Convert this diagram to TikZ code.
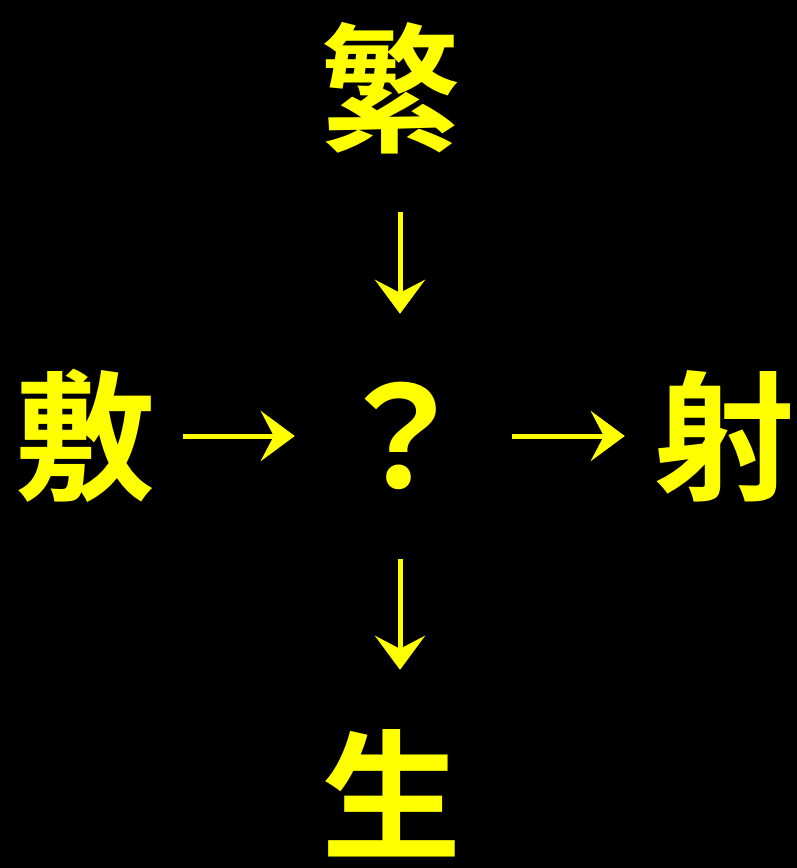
\documentclass[tikz,border=0pt]{standalone}
\usepackage{fontspec}
\newfontfamily\cjk{Noto Sans CJK JP}[BoldFont=* Bold]
\usetikzlibrary{arrows.meta}
\definecolor{hanzi}{HTML}{FFFF00}
\tikzset{
  glyph/.style={font=\cjk\bfseries\fontsize{140}{140}\selectfont, text=hanzi, inner sep=0pt, minimum width=150pt, minimum height=150pt, anchor=center},
  conn/.style={draw=hanzi, line width=5pt, -{Stealth[length=34pt, width=50pt, inset=13pt]}}
}
\begin{document}
\begin{tikzpicture}[x=1pt,y=-1pt]
\fill[black] (0,0) rectangle (797,868);
\useasboundingbox (0,0) rectangle (797,868);
\node[glyph] (fan) at (390,88) {繁};
\node[glyph] (fu) at (86,436) {敷};
\node[glyph] (q) at (400,436) {？};
\node[glyph] (she) at (724,436) {射};
\node[glyph] (sheng) at (391,793) {生};
\draw[conn, shorten <=49pt, shorten >=47pt] (fan.south -| q.north) -- (q.north);
\draw[conn, shorten <=22pt, shorten >=30pt] (fu.east) -- (q.west);
\draw[conn, shorten <=37pt, shorten >=24pt] (q.east) -- (she.west);
\draw[conn, shorten <=48pt, shorten >=48pt] (q.south) -- (q.south |- sheng.north);
\end{tikzpicture}
\end{document}
